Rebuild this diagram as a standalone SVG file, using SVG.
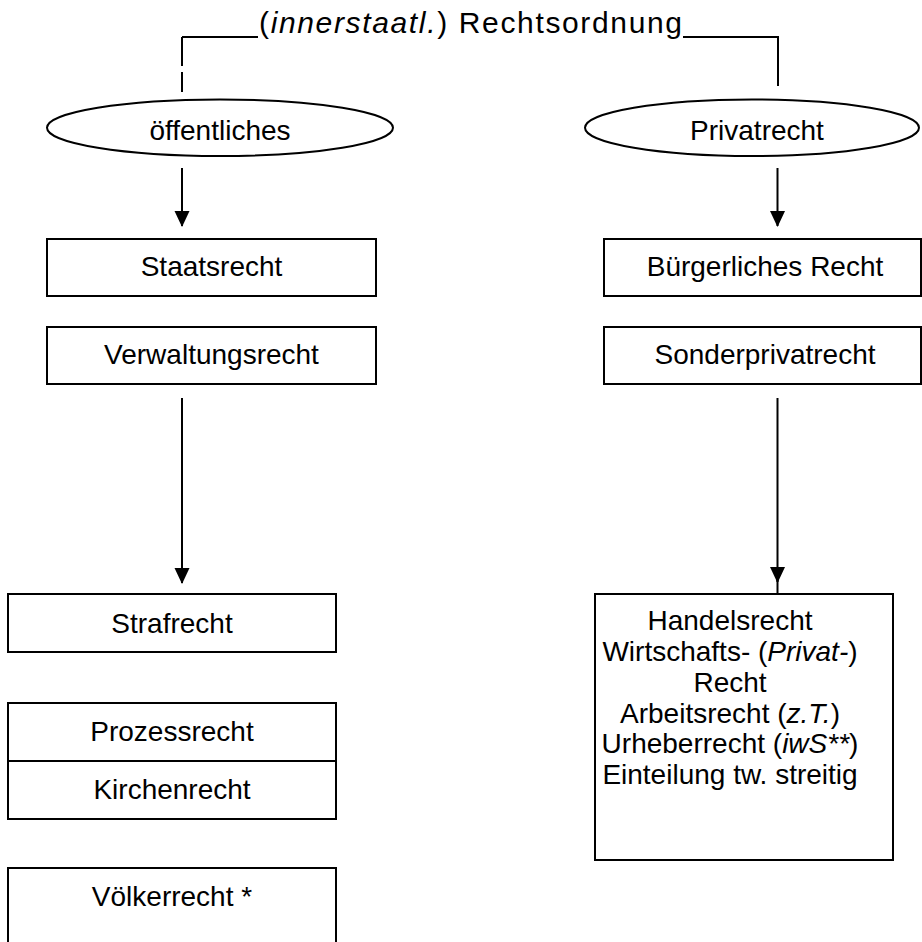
<svg xmlns="http://www.w3.org/2000/svg" width="922" height="942" viewBox="0 0 922 942">
<defs>
<marker id="ah" markerWidth="16" markerHeight="16" refX="15" refY="7.5" orient="auto" markerUnits="userSpaceOnUse">
<path d="M0,0 L16,7.5 L0,15 Z" fill="#000"/>
</marker>
<style>
text{font-family:"Liberation Sans",Arial,sans-serif;font-size:28px;fill:#000;text-anchor:middle}
.b{fill:#fff;stroke:#000;stroke-width:2}
.c{fill:none;stroke:#000;stroke-width:2}
</style>
</defs>
<rect width="922" height="942" fill="#fff"/>
<g id="title">
<text x="259" y="33" style="text-anchor:start;font-size:30px" textLength="423" lengthAdjust="spacing">(<tspan font-style="italic">innerstaatl.</tspan>) Rechtsordnung</text>
</g>
<g id="connectors">
<path class="c" d="M182,37 H258 M683,37 H778 V86"/>
<path class="c" d="M182,37 V66 M182,72 V92"/>
<path class="c" d="M182,168 V226" marker-end="url(#ah)"/>
<path class="c" d="M777.5,168 V226" marker-end="url(#ah)"/>
<path class="c" d="M182,398 V583" marker-end="url(#ah)"/>
<path class="c" d="M777.5,398 V582" marker-end="url(#ah)"/>
<path class="c" d="M777.5,580 V594"/>
</g>
<g id="oeffentliches">
<ellipse class="b" cx="220" cy="127.7" rx="173" ry="28.3"/>
<text x="220" y="140">öffentliches</text>
</g>
<g id="privatrecht">
<ellipse class="b" cx="752" cy="127.7" rx="167" ry="28.3"/>
<text x="757" y="140">Privatrecht</text>
</g>
<g id="staatsrecht">
<rect class="b" x="47" y="239" width="329" height="57"/>
<text x="211.5" y="276">Staatsrecht</text>
</g>
<g id="verwaltungsrecht">
<rect class="b" x="47" y="327" width="329" height="57"/>
<text x="211.5" y="364">Verwaltungsrecht</text>
</g>
<g id="buergerliches">
<rect class="b" x="604" y="239" width="317" height="57"/>
<text x="765" y="276">Bürgerliches Recht</text>
</g>
<g id="sonderprivatrecht">
<rect class="b" x="604" y="327" width="317" height="57"/>
<text x="765" y="364">Sonderprivatrecht</text>
</g>
<g id="strafrecht">
<rect class="b" x="8" y="594" width="328" height="58"/>
<text x="172" y="633">Strafrecht</text>
</g>
<g id="prozess-kirchen">
<rect class="b" x="8" y="703" width="328" height="116"/>
<path class="c" d="M8,761 H336"/>
<text x="172" y="741">Prozessrecht</text>
<text x="172" y="799">Kirchenrecht</text>
</g>
<g id="voelkerrecht">
<path class="b" d="M8,950 V868 H336 V950"/>
<text x="172" y="906">Völkerrecht *</text>
</g>
<g id="sonder-liste">
<rect class="b" x="595" y="594" width="298" height="266"/>
<text x="730" y="630">Handelsrecht</text>
<text x="730" y="661">Wirtschafts- (<tspan font-style="italic">Privat-</tspan>)</text>
<text x="730" y="692">Recht</text>
<text x="730" y="723">Arbeitsrecht (<tspan font-style="italic">z.T.</tspan>)</text>
<text x="730" y="753">Urheberrecht (<tspan font-style="italic">iwS**</tspan>)</text>
<text x="730" y="784">Einteilung tw. streitig</text>
</g>
</svg>
